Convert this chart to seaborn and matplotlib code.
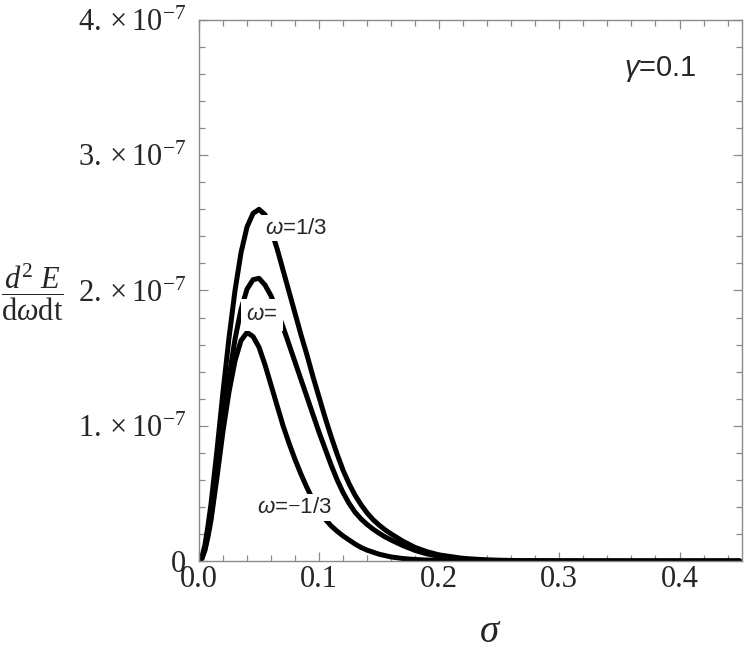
import numpy as np
import pandas as pd
import seaborn as sns
import matplotlib.pyplot as plt
from matplotlib.ticker import MultipleLocator, FixedLocator

# --- DATA (spectrum values in units of 1e-7) ---
sigma = [0, .0025, .005, .0075, .01, .015, .02, .025, .03, .035, .04, .045, .05,
         .055, .06, .065, .07, .075, .08, .085, .09, .095, .10, .105, .11,
         .115, .12, .125, .13, .135, .14, .145, .15, .155, .16, .17, .18, .19,
         .20, .22, .24, .27, .30, .35, .40, .45]

w_pos = [0, .03, .12, .26, .42, .82, 1.25, 1.65, 2.00, 2.28, 2.47, 2.57, 2.60,
         2.56, 2.45, 2.31, 2.15, 1.99, 1.83, 1.67, 1.52, 1.36, 1.21, 1.06, .92,
         .79, .67, .57, .485, .415, .355, .305, .265, .23, .20, .145, .10, .068,
         .045, .019, .008, .002, .0005, 0, 0, 0]

w_zero = [0, .02, .09, .20, .33, .66, 1.02, 1.36, 1.64, 1.86, 2.01, 2.08, 2.09,
          2.04, 1.96, 1.85, 1.73, 1.60, 1.47, 1.34, 1.21, 1.08, .95, .83, .71,
          .60, .505, .425, .36, .31, .27, .235, .205, .178, .155, .113, .078, .052,
          .034, .013, .005, .001, .0003, 0, 0, 0]

w_neg = [0, .02, .08, .18, .30, .62, .96, 1.25, 1.48, 1.63, 1.69, 1.66, 1.58,
         1.45, 1.30, 1.15, 1.00, .87, .75, .64, .54, .45, .37, .31, .26,
         .22, .185, .155, .125, .10, .08, .065, .05, .04, .03, .018, .011, .007,
         .004, .001, 0, 0, 0, 0, 0, 0]

curve_names = ['1/3', '0', '-1/3']
y_ticks = [0, 1e-7, 2e-7, 3e-7, 4e-7]
y_ticklabels = ['0', r'$1.\times10^{-7}$', r'$2.\times10^{-7}$',
                r'$3.\times10^{-7}$', r'$4.\times10^{-7}$']
x_ticks = [0.0, 0.1, 0.2, 0.3, 0.4]

# --- CONFIG ---
sns.set_theme(style="ticks")
plt.rcParams['font.family'] = ['Liberation Serif', 'DejaVu Sans']
plt.rcParams['mathtext.fontset'] = 'custom'
plt.rcParams['mathtext.rm'] = 'Liberation Serif'
plt.rcParams['mathtext.it'] = 'Liberation Serif:italic'
plt.rcParams['mathtext.bf'] = 'Liberation Serif:bold'
plt.rcParams['mathtext.sf'] = 'Liberation Sans:italic'

frames = []
for name, vals in zip(curve_names, [w_pos, w_zero, w_neg]):
    frames.append(pd.DataFrame({'sigma': sigma,
                                'value': np.array(vals) * 1e-7,
                                'curve': name}))
df = pd.concat(frames, ignore_index=True)

fig = plt.figure(figsize=(7.5, 6.55), dpi=100)
ax = fig.add_axes([0.2653, 0.1435, 0.724, 0.826])

sns.lineplot(data=df, x='sigma', y='value', hue='curve',
             palette=['black'] * 3, legend=False, estimator=None,
             linewidth=3.6, ax=ax, zorder=2)

ax.set_xlim(0, 0.452)
ax.set_ylim(0, 4e-7)
ax.xaxis.set_major_locator(FixedLocator(x_ticks))
ax.xaxis.set_minor_locator(MultipleLocator(0.02))
ax.yaxis.set_major_locator(FixedLocator(y_ticks))
ax.yaxis.set_minor_locator(MultipleLocator(0.2e-7))
ax.set_xticklabels([f'{v:.1f}' for v in x_ticks], fontsize=22)
ax.set_yticklabels(y_ticklabels, fontsize=22)

ax.tick_params(which='both', direction='in', top=True, right=True,
               color='#8a8a8a', width=0.9)
ax.tick_params(which='major', length=6.5)
ax.tick_params(which='minor', length=4)
ax.tick_params(axis='x', which='major', pad=3)
ax.tick_params(axis='y', which='major', pad=9)
for s in ax.spines.values():
    s.set_color('#8a8a8a')
    s.set_linewidth(1.0)

ax.set_xlabel(r'$\sigma$', fontsize=28, va='center')
ax.xaxis.set_label_coords(0.536, -0.133)
ax.set_ylabel(r'$\dfrac{d^2\ E}{\mathrm{d}\omega\mathrm{dt}}$', fontsize=22,
              rotation=0, va='center', ha='center')
ax.yaxis.set_label_coords(-0.307, 0.497)

# curve labels with white background (cut the lines like the original)
box = dict(facecolor='white', edgecolor='none', pad=2.0)
ax.text(0.081, 2.46e-7, r'$\mathsf{\omega}$=1/3', family='Liberation Sans',
        fontsize=16, ha='center', va='center', bbox=box, zorder=5)
ax.text(0.0525, 1.82e-7, r'$\mathsf{\omega}$=', family='Liberation Sans',
        fontsize=16, ha='center', va='center',
        bbox=dict(facecolor='white', edgecolor='none', pad=4), zorder=5)
ax.text(0.0796, 0.396e-7, r'$\mathsf{\omega}$=$-$1/3', family='Liberation Sans',
        fontsize=16, ha='center', va='center', bbox=box, zorder=5)
ax.text(0.849, 0.909, r'$\mathsf{\gamma}$=0.1', family='Liberation Sans',
        fontsize=21, ha='center', va='center', transform=ax.transAxes)

fig.savefig('out.png', dpi=100)
plt.close(fig)
